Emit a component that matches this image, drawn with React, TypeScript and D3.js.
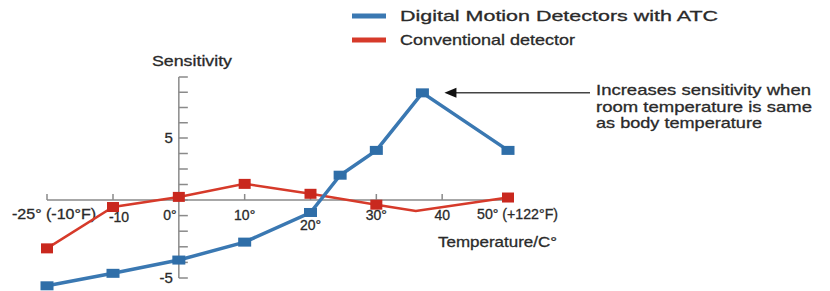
import * as d3 from 'd3'

// temperature (°C) and sensitivity readings
const digitalTemps = [-25, -10, 0, 10, 20, 24.5, 30, 37, 50]
const digitalValues = [-5.5, -4.7, -3.85, -2.7, -0.8, 2.0, 4.0, 8.7, 4.0]
const conventionalTemps = [-25, -10, 0, 10, 20, 30, 36, 50]
const conventionalValues = [-3.1, -0.45, 0.25, 1.3, 0.5, -0.3, -0.7, 0.2]
const conventionalMarked = [true, true, true, true, true, true, false, true]

const xTicks = [-25, -10, 0, 10, 20, 30, 40, 50]
const xTickLabels = ['-25° (-10°F)', '-10', '0°', '10°', '20°', '30°', '40', '50° (+122°F)']
const yTicks = [-5, -4, -3, -2, -1, 0, 1.25, 2.5, 3.75, 5, 6.25, 7.5, 8.75, 10]
const yLabelTicks = [5, -5]

const legendItems = [
  { label: 'Digital Motion Detectors with ATC', color: '#3a78b2', width: 318 },
  { label: 'Conventional detector', color: '#d63a2a', width: 175 },
]
const noteLines = [
  { text: 'Increases sensitivity when', width: 215 },
  { text: 'room temperature is same', width: 216 },
  { text: 'as body temperature', width: 166 },
]

const W = 830
const H = 291
const FONT = '"Liberation Sans", Arial, Helvetica, sans-serif'
const INK = '#2a2a2a'

const App = () => {
  const x = d3.scaleLinear().domain([-25, -10, 50]).range([47, 113, 508])
  const y = d3.scaleLinear().domain([-5, 0, 5, 10]).range([278, 200, 138, 77])

  const line = d3
    .line<[number, number]>()
    .x((d) => x(d[0]))
    .y((d) => y(d[1]))

  const digital = digitalTemps.map((t, i) => [t, digitalValues[i]] as [number, number])
  const conventional = conventionalTemps.map(
    (t, i) => [t, conventionalValues[i]] as [number, number]
  )
  const x0 = x(0)
  const y0 = y(0)
  const peak = digital[7]

  const textProps = {
    fill: INK,
    stroke: INK,
    strokeWidth: 0.3,
    lengthAdjust: 'spacingAndGlyphs' as const,
  }

  return (
    <div style={{ position: 'fixed', left: 0, top: 0 }}>
      <svg width={W} height={H} style={{ display: 'block', background: '#fff' }} fontFamily={FONT}>
        {/* legend */}
        {legendItems.map((item, i) => (
          <g key={item.label} transform={`translate(352,${16 + i * 24})`}>
            <line x1={0} x2={34} y1={0} y2={0} stroke={item.color} strokeWidth={5} />
            <text x={48} y={5} fontSize={15} textLength={item.width} {...textProps}>
              {item.label}
            </text>
          </g>
        ))}

        {/* y axis */}
        <line x1={x0} x2={x0} y1={y(10)} y2={y(-5)} stroke="#8a8a8a" strokeWidth={1.5} />
        {yTicks.map((t) => (
          <line key={t} x1={x0} x2={x0 + 9} y1={y(t)} y2={y(t)} stroke="#8a8a8a" strokeWidth={1.5} />
        ))}
        {yLabelTicks.map((t) => (
          <text key={t} x={x0 - 6} y={y(t) + 5} textAnchor="end" fontSize={15} {...textProps}>
            {t}
          </text>
        ))}
        <text x={152} y={66} fontSize={15} textLength={80} {...textProps}>
          Sensitivity
        </text>

        {/* x axis */}
        <line x1={x(-25)} x2={x(50)} y1={y0} y2={y0} stroke="#8a8a8a" strokeWidth={1.5} />
        {xTicks.map((t) => (
          <line key={t} x1={x(t)} x2={x(t)} y1={y0} y2={y0 - 6} stroke="#8a8a8a" strokeWidth={1.5} />
        ))}
        {xTicks.map((t, i) => {
          let tx = x(t)
          let ty = y0 + 20
          let anchor: 'start' | 'middle' | 'end' = 'middle'
          let len: number | undefined
          if (t === -25) {
            tx = 12
            ty = y0 + 19
            anchor = 'start'
            len = 84
          } else if (t === 50) {
            tx = x(t) - 31
            ty = y0 + 19
            anchor = 'start'
            len = 81
          } else if (t === 0) {
            tx = x0 - 9
          } else if (t === 20) {
            ty = y0 + 30
          } else if (t === -10) {
            tx = x(t) + 6
            ty = y0 + 22
          }
          return (
            <text
              key={t}
              x={tx}
              y={ty}
              textAnchor={anchor}
              fontSize={14}
              textLength={len}
              {...textProps}
            >
              {xTickLabels[i]}
            </text>
          )
        })}
        <text x={438} y={247} fontSize={15} textLength={119} {...textProps}>
          Temperature/C°
        </text>

        {/* series */}
        <path d={line(conventional) ?? ''} fill="none" stroke="#d63a2a" strokeWidth={2.5} />
        <path d={line(digital) ?? ''} fill="none" stroke="#3a78b2" strokeWidth={3.5} />
        {conventional.map((d, i) =>
          conventionalMarked[i] ? (
            <rect key={i} x={x(d[0]) - 6} y={y(d[1]) - 5} width={12} height={10} fill="#c9281e" />
          ) : null
        )}
        {digital.map((d, i) => (
          <rect key={i} x={x(d[0]) - 6.5} y={y(d[1]) - 4.5} width={13} height={9} fill="#2f6ea8" />
        ))}

        {/* annotation */}
        <line x1={x(peak[0]) + 32} x2={590} y1={y(peak[1])} y2={y(peak[1])} stroke="#444" strokeWidth={1.5} />
        <path d={`M${x(peak[0]) + 22},${y(peak[1])} l12,-5 l0,10 z`} fill="#111" />
        {noteLines.map((s, i) => (
          <text key={s.text} x={596} y={95 + i * 16.5} fontSize={15} textLength={s.width} {...textProps}>
            {s.text}
          </text>
        ))}
      </svg>
    </div>
  )
}

export default App
